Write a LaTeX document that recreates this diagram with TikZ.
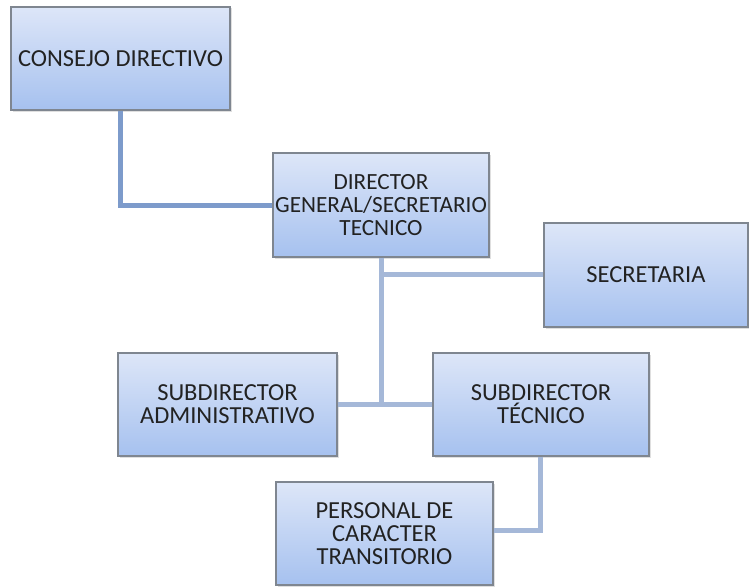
\documentclass[tikz,border=0pt]{standalone}
\usepackage{fontspec}
\setmainfont{Carlito}
\usetikzlibrary{shadows}
\definecolor{boxtop}{HTML}{DDE6F8}
\definecolor{boxbot}{HTML}{A6C1EF}
\definecolor{boxline}{HTML}{7F8690}
\definecolor{txt}{HTML}{222222}
\definecolor{darkconn}{HTML}{7D9BCB}
\definecolor{lightconn}{HTML}{A5B8D8}
\begin{document}
\begin{tikzpicture}[x=1pt,y=-1pt,
  orgbox/.style={rectangle, draw=boxline, line width=1.2pt, top color=boxtop, bottom color=boxbot,
    text=txt, align=center, inner xsep=0pt, inner ysep=2pt,
    font=\fontsize{24.5}{23}\selectfont,
    drop shadow={shadow xshift=1.5pt, shadow yshift=-1.5pt, opacity=0.25}},
  darkline/.style={draw=darkconn, line width=5pt},
  lightline/.style={draw=lightconn, line width=5pt}]
\useasboundingbox (0,0) rectangle (749,586);
\fill[white] (0,0) rectangle (749,586);

\coordinate (cj) at (120,110);
\coordinate (dj) at (381,274);
\coordinate (tj) at (540,530);

\node[orgbox, minimum width=219pt, minimum height=103pt] (consejo) at (120.5,58.5) {CONSEJO DIRECTIVO};
\node[orgbox, minimum width=216pt, minimum height=104pt, font=\fontsize{23.2}{23}\selectfont] (director) at (381,205) {DIRECTOR\\GENERAL/SECRETARIO\\TECNICO};
\node[orgbox, minimum width=204pt, minimum height=104pt] (secretaria) at (646,275) {SECRETARIA};
\node[orgbox, minimum width=219pt, minimum height=103pt] (subadmin) at (227.5,404.5) {SUBDIRECTOR\\ADMINISTRATIVO};
\node[orgbox, minimum width=216pt, minimum height=103pt] (subtec) at (541,404.5) {SUBDIRECTOR\\TÉCNICO};
\node[orgbox, minimum width=217pt, minimum height=103pt] (personal) at (384.5,533.5) {PERSONAL DE\\CARACTER\\TRANSITORIO};

\draw[darkline] (consejo.south -| cj) |- (director.west);
\draw[lightline] (director.south) -- (director.south |- subadmin.east);
\draw[lightline] (subadmin.east) -- (subtec.west);
\draw[lightline] (dj) -- (dj -| secretaria.west);
\draw[lightline] (subtec.south -| tj) -- (tj) -- (tj -| personal.east);
\end{tikzpicture}
\end{document}
